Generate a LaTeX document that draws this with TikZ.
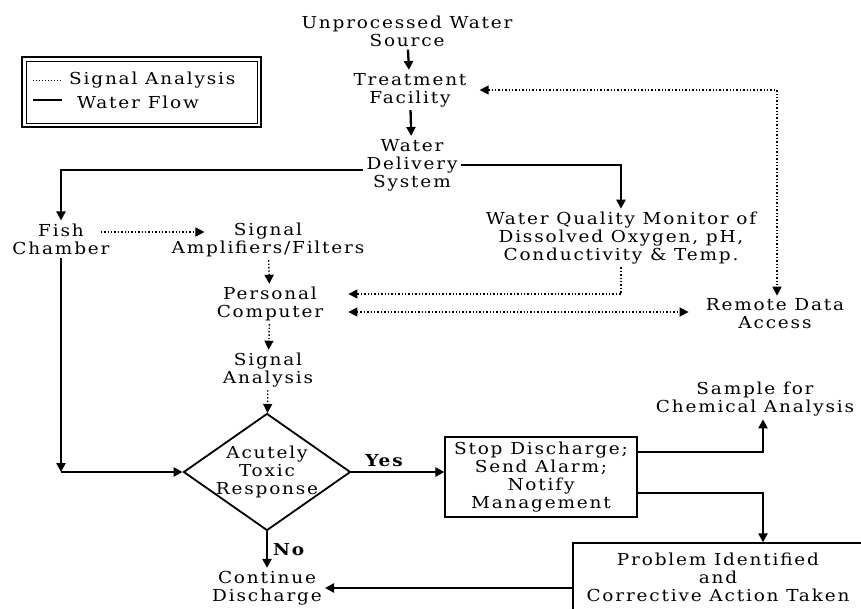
\documentclass[tikz,border=0pt]{standalone}
\usepackage{fontspec}
\setmainfont[LetterSpace=11,FakeStretch=1.12]{DejaVu Serif}
\usepackage{tikz}
\usetikzlibrary{arrows.meta,shapes.geometric}

\tikzset{
    txt/.style={align=center, inner sep=3pt, font=\fontsize{16.5}{18}\selectfont},
    flow/.style={line width=2.3pt, -{Triangle[length=9pt,width=9pt]}},
    sig/.style={line width=1.4pt, dash pattern=on 1.4pt off 2pt, -{Triangle[length=9pt,width=9pt]}},
    boxed/.style={txt, draw, line width=1.2pt},
}

\begin{document}
\begin{tikzpicture}[x=1pt, y=-1pt]
    \useasboundingbox (0,0) rectangle (861,608);
    % legend
    \draw[line width=1.4pt] (22,57) rectangle (261,127);
    \draw[line width=1pt] (26,61) rectangle (257,123);
    \draw[line width=0.6pt, dash pattern=on 1pt off 2pt] (33,80) -- (62,80);
    \draw[line width=2.3pt] (33,100) -- (62,100);
    \node[txt, anchor=west] (lgsig) at (66,80) {Signal Analysis};
    \node[txt, anchor=west] (lgflow) at (74,102) {Water Flow};

    % nodes
    \node[txt] (source) at (407,31) {Unprocessed Water\\Source};
    \node[txt] (treat) at (410,90) {Treatment\\Facility};
    \node[txt] (deliv) at (412,165) {Water\\Delivery\\System};
    \node[txt] (fish) at (61,239) {Fish\\Chamber};
    \node[txt] (amp) at (268,240) {Signal\\Amplifiers/Filters};
    \node[txt] (wqm) at (621,238) {Water Quality Monitor of\\Dissolved Oxygen, pH,\\Conductivity \& Temp.};
    \node[txt] (pc) at (270,304) {Personal\\Computer};
    \node[txt] (remote) at (775,314) {Remote Data\\Access};
    \node[txt] (anal) at (268,370) {Signal\\Analysis};
    \node[draw, line width=1.8pt, shape=diamond, inner sep=0pt, minimum width=167pt, minimum height=117pt,
          label={[txt]center:Acutely\\Toxic\\Response}] (toxic) at (267,472) {};
    \node[txt] (cont) at (267,588) {Continue\\Discharge};
    \node[boxed, minimum width=192pt, minimum height=80pt] (stop) at (541,477) {Stop Discharge;\\Send Alarm;\\Notify\\Management};
    \node[txt] (sample) at (755,399) {Sample for\\Chemical Analysis};
    \node[boxed, minimum width=290pt, minimum height=68pt] (prob) at (718,577) {Problem Identified\\and\\Corrective Action Taken};

    % water flow
    \draw[flow] (source) -- (treat);
    \draw[flow] (treat) -- (deliv);
    \draw[flow] ([yshift=-5pt]deliv.west) -| (fish.north);
    \draw[flow] (deliv.east) -| (wqm.north);
    \draw[flow] (fish.south) -- (fish.south |- toxic.west);
    \draw[flow] (fish.south |- toxic.west) -- (toxic.west);
    \draw[flow] (toxic.east) -- (toxic.east -| stop.west) node[txt, pos=0.36, above=1pt] {\textbf{Yes}};
    \draw[flow] (toxic.south) -- (cont.north) node[txt, midway, right=2pt] {\textbf{No}};
    \draw[flow] ([yshift=25pt]stop.east) -| ([xshift=8pt]sample.south);
    \draw[flow] ([yshift=-16pt]stop.east) -| ([xshift=45pt]prob.north);
    \draw[flow] (cont.east -| prob.west) -- (cont.east);

    % signal analysis
    \draw[sig] ([xshift=-12pt,yshift=7pt]fish.east) -- ([xshift=36pt,yshift=8pt]amp.west);
    \draw[sig] (amp) -- (pc);
    \draw[sig] (wqm.south) |- ([xshift=22pt,yshift=10pt]pc.east);
    \draw[sig, {Triangle[length=9pt,width=9pt]}-{Triangle[length=9pt,width=9pt]}] ([xshift=22pt,yshift=-8pt]pc.east) -- ([xshift=-14pt,yshift=-8pt]pc.east -| remote.west);
    \draw[sig, {Triangle[length=9pt,width=9pt]}-{Triangle[length=9pt,width=9pt]}] ([xshift=10pt]treat.east) -| ([xshift=2pt]remote.north);
    \draw[sig] (pc) -- (anal);
    \draw[sig] (anal) -- (toxic);
\end{tikzpicture}
\end{document}
